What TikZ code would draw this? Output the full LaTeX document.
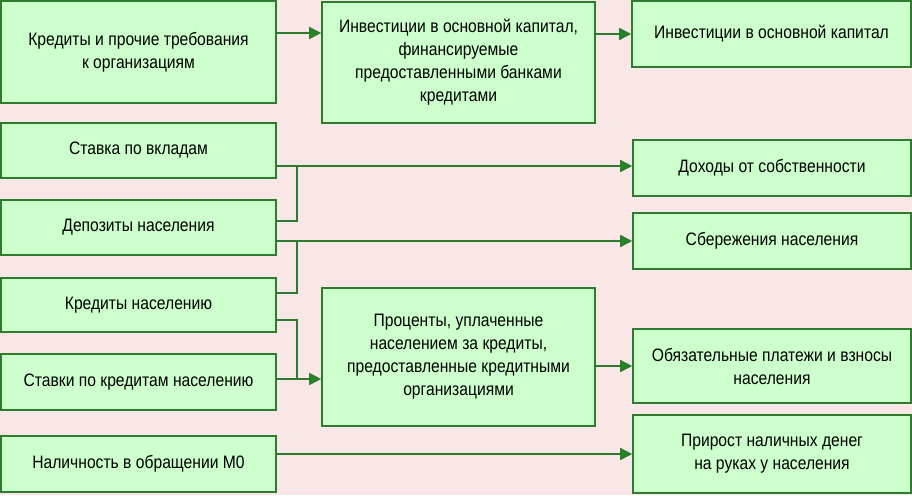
\documentclass[tikz,border=0pt]{standalone}
\usepackage{fontspec}
\setmainfont{Liberation Sans}[FakeStretch=0.87]
\usetikzlibrary{arrows.meta}
\definecolor{PaperPink}{HTML}{F9E7E7}
\definecolor{BoxGreen}{HTML}{CCFFCC}
\definecolor{EdgeGreen}{HTML}{2E7A2E}
\definecolor{FlowGreen}{HTML}{1E8A22}
\begin{document}
\begin{tikzpicture}[x=1pt,y=-1pt,
  every node/.style={font=\fontsize{18}{23}\selectfont, align=center},
  box/.style={draw=EdgeGreen, fill=BoxGreen, line width=1.6pt, inner sep=0pt},
  flow/.style={draw=EdgeGreen, line width=1.6pt},
  feed/.style={flow, -{Triangle[length=12pt,width=12pt,fill=FlowGreen]}}]
  \fill[PaperPink] (0,0) rectangle (912,495);
  \useasboundingbox (0,0) rectangle (912,495);
  % left column
  \node[box, minimum width=275pt, minimum height=102pt] (credorg) at (138.5,52) {Кредиты и прочие требования\\к организациям};
  \node[box, minimum width=275pt, minimum height=55pt] (rdep) at (138.5,150.5) {Ставка по вкладам};
  \node[box, minimum width=275pt, minimum height=55pt] (dep) at (138.5,227.5) {Депозиты населения};
  \node[box, minimum width=275pt, minimum height=54pt] (credpop) at (138.5,305) {Кредиты населению};
  \node[box, minimum width=275pt, minimum height=56pt] (rcred) at (138.5,382) {Ставки по кредитам населению};
  \node[box, minimum width=275pt, minimum height=56pt] (cash) at (138.5,464) {Наличность в обращении М0};
  % middle column
  \node[box, minimum width=273pt, minimum height=121pt] (invbank) at (458.5,62.5) {Инвестиции в основной капитал,\\финансируемые\\предоставленными банками\\кредитами};
  \node[box, minimum width=273pt, minimum height=138pt] (interest) at (458.5,357) {Проценты, уплаченные\\населением за кредиты,\\предоставленные кредитными\\организациями};
  % right column
  \node[box, minimum width=279pt, minimum height=66pt] (inv) at (771.5,34) {Инвестиции в основной капитал};
  \node[box, minimum width=278pt, minimum height=56pt] (income) at (772,168) {Доходы от собственности};
  \node[box, minimum width=278pt, minimum height=56pt] (saving) at (772,241) {Сбережения населения};
  \node[box, minimum width=278pt, minimum height=74pt] (payment) at (772,366) {Обязательные платежи и взносы\\населения};
  \node[box, minimum width=278pt, minimum height=78pt] (growth) at (772,454) {Прирост наличных денег\\на руках у населения};
  % junctions
  \coordinate (jincome) at (297,166);
  \coordinate (jsaving) at (297,241);
  \coordinate (jinterest) at (297,379);
  % connectors
  \draw[feed] (credorg.east |- 0,33) -- (invbank.west |- 0,33);
  \draw[feed] (invbank.east |- inv.west) -- (inv.west);
  \draw[feed] (rdep.east |- jincome) -- (income.west |- jincome);
  \draw[flow] (dep.east |- 0,221) -| (jincome);
  \draw[feed] (dep.east |- saving.west) -- (saving.west);
  \draw[flow] (credpop.east |- 0,293) -| (jsaving);
  \draw[flow] (credpop.east |- 0,320) -| (jinterest);
  \draw[feed] (rcred.east |- jinterest) -- (interest.west |- jinterest);
  \draw[feed] (interest.east |- payment.west) -- (payment.west);
  \draw[feed] (cash.east |- growth.west) -- (growth.west);
\end{tikzpicture}
\end{document}
